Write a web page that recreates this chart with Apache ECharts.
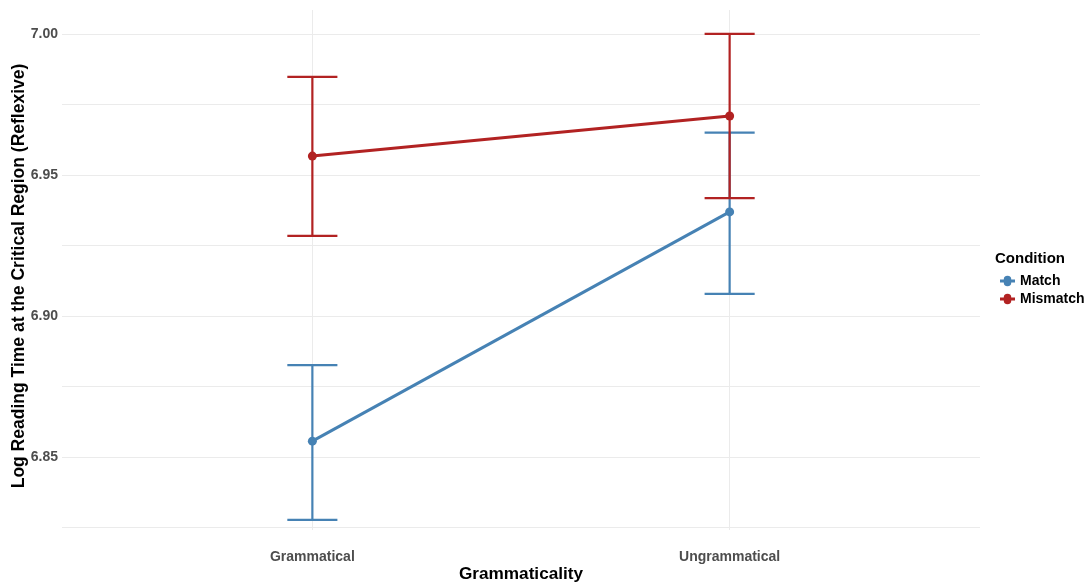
<!DOCTYPE html>
<html><head><meta charset="utf-8">
<script src="https://cdn.jsdelivr.net/npm/echarts@6/dist/echarts.min.js"></script>
<style>html,body{margin:0;padding:0;background:#fff}#c{width:1086px;height:586px}</style>
</head><body><div id="c"></div>
<script>
const categories = ['Grammatical', 'Ungrammatical'];
const seriesNames = ['Match', 'Mismatch'];
const matchMean = [6.8556, 6.9369];
const matchLow = [6.8277, 6.9078];
const matchHigh = [6.8826, 6.9650];
const mismatchMean = [6.9567, 6.9709];
const mismatchLow = [6.9284, 6.9418];
const mismatchHigh = [6.9848, 7.0000];
const yTickLabels = [6.85, 6.90, 6.95, 7.00];
const yGridValues = [6.825, 6.85, 6.875, 6.90, 6.925, 6.95, 6.975, 7.00];

const colors = {Match: '#4682B4', Mismatch: '#B22222'};
const font = 'Liberation Sans, Arial, sans-serif';

function pts(means) { return means.map((v, i) => [i, v]); }
function errData(lo, hi) { return lo.map((v, i) => [i, v, hi[i]]); }
function errSeries(name, lo, hi) {
  return {
    type: 'custom', name: name, z: 5,
    data: errData(lo, hi),
    renderItem: function (params, api) {
      const x = api.value(0);
      const p1 = api.coord([x, api.value(1)]);
      const p2 = api.coord([x, api.value(2)]);
      const w = api.size([0.12, 0])[0] / 2;
      const st = {stroke: colors[name], lineWidth: 2.2};
      return {type: 'group', children: [
        {type: 'line', shape: {x1: p1[0], y1: p1[1], x2: p2[0], y2: p2[1]}, style: st},
        {type: 'line', shape: {x1: p1[0] - w, y1: p1[1], x2: p1[0] + w, y2: p1[1]}, style: st},
        {type: 'line', shape: {x1: p2[0] - w, y1: p2[1], x2: p2[0] + w, y2: p2[1]}, style: st}
      ]};
    }
  };
}
function lineSeries(name, means) {
  return {
    type: 'line', name: name, data: pts(means), z: 3,
    symbol: 'circle', symbolSize: 9,
    itemStyle: {color: colors[name]},
    lineStyle: {color: colors[name], width: 3}
  };
}

const chart = echarts.init(document.getElementById('c'), null, {renderer: 'canvas'});
chart.setOption({
  animation: false,
  backgroundColor: '#fff',
  grid: {left: 62, right: 106, top: 10, bottom: 56, containLabel: false, outerBoundsMode: 'none'},
  xAxis: {
    type: 'value', min: -0.6, max: 1.6,
    axisLine: {show: false},
    axisTick: {show: false, customValues: [0, 1]},
    splitLine: {show: true, lineStyle: {color: '#ebebeb', width: 1}},
    axisLabel: {customValues: [0, 1], formatter: v => categories[Math.round(v)],
      color: '#4d4d4d', fontWeight: 'bold', fontSize: 14, fontFamily: font, margin: 20},
    name: 'Grammaticality', nameLocation: 'middle', nameGap: 36, nameMoveOverlap: false,
    nameTextStyle: {color: '#000', fontWeight: 'bold', fontSize: 17.2, fontFamily: font}
  },
  yAxis: {
    type: 'value', min: 6.8241, max: 7.0085,
    axisLine: {show: false},
    axisTick: {show: false, customValues: yGridValues},
    splitLine: {show: true, lineStyle: {color: '#ebebeb', width: 1}},
    axisLabel: {customValues: yTickLabels, formatter: v => v.toFixed(2),
      color: '#4d4d4d', fontWeight: 'bold', fontSize: 14, fontFamily: font, margin: 4},
    name: 'Log Reading Time at the Critical Region (Reflexive)', nameLocation: 'middle', nameGap: 34, nameMoveOverlap: false,
    nameTextStyle: {color: '#000', fontWeight: 'bold', fontSize: 17.5, fontFamily: font, padding: [0, 12, 0, 0]}
  },
  legend: {
    data: seriesNames.map(n => ({name: n, icon: 'path://M0,6.5 L4,6.5 A4,4 0 0 1 12,6.5 L16,6.5 L16,9.5 L12,9.5 A4,4 0 0 1 4,9.5 L0,9.5 Z'})),
    orient: 'vertical', left: 995, top: 269, itemWidth: 15, itemHeight: 11, itemGap: 4,
    textStyle: {color: '#000', fontWeight: 'bold', fontSize: 14, fontFamily: font}
  },
  graphic: [{type: 'text', left: 995, top: 251,
    style: {text: 'Condition', fill: '#000', font: 'bold 15px ' + font}}],
  series: [
    lineSeries('Match', matchMean),
    lineSeries('Mismatch', mismatchMean),
    errSeries('Match', matchLow, matchHigh),
    errSeries('Mismatch', mismatchLow, mismatchHigh)
  ]
});
</script></body></html>
